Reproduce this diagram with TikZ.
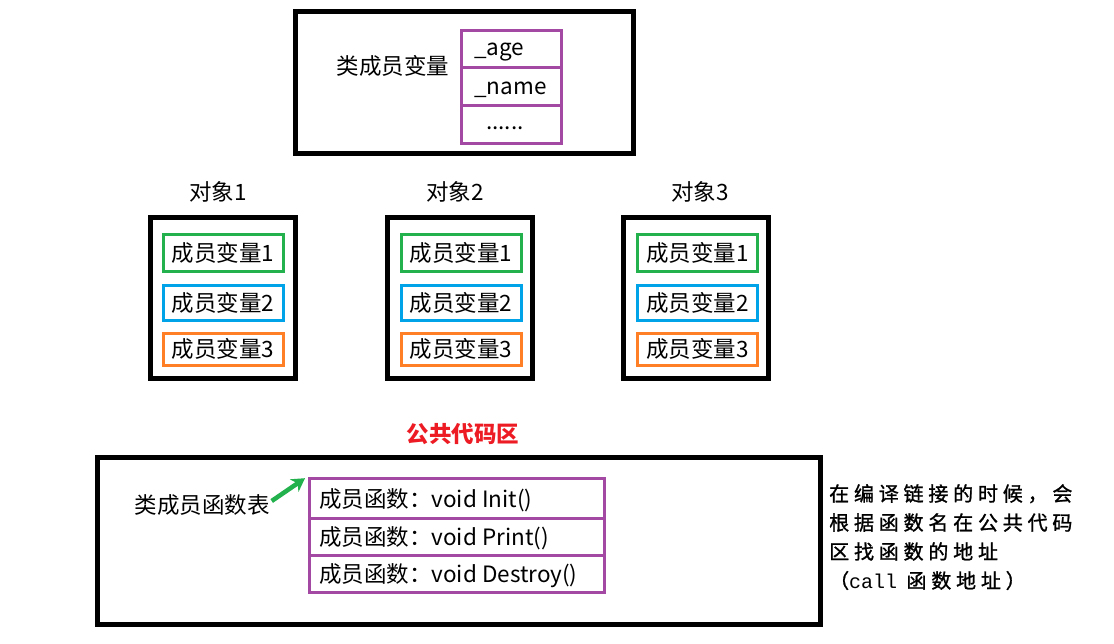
\documentclass[tikz,border=0pt]{standalone}
\usepackage{fontspec}
\setmainfont{Noto Sans CJK SC}
\newfontfamily\monof{Liberation Mono}
\usetikzlibrary{arrows.meta}
\definecolor{purp}{HTML}{A349A4}
\definecolor{vgreen}{HTML}{22B14C}
\definecolor{vblue}{HTML}{00A2E8}
\definecolor{vorange}{HTML}{FF7F27}
\definecolor{vred}{HTML}{ED1C24}
\tikzset{
  blk/.style={draw=black, line width=5pt, inner sep=0pt, rectangle},
  cell/.style={draw=purp, line width=3pt, inner sep=0pt, rectangle, font=\fontsize{22.5}{26}\selectfont},
  vbox/.style={line width=3pt, inner sep=0pt, rectangle, minimum width=120pt, font=\fontsize{22.5}{26}\selectfont},
  lbl/.style={inner sep=0pt, font=\fontsize{22.5}{26}\selectfont},
}
\begin{document}
\begin{tikzpicture}[x=1pt,y=-1pt]
\useasboundingbox[fill=white] (0,0) rectangle (1114,643);

% top class box
\node[blk, minimum width=338pt, minimum height=142pt] (cls) at (464,82) {};
\node[lbl] (clslbl) at (393,66) {类成员变量};
\node[cell, minimum width=100pt, minimum height=37pt] (age) at (511,48.5) {};
\node[cell, minimum width=100pt, minimum height=38pt] (name) at (511,86) {};
\node[cell, minimum width=100pt, minimum height=38pt] (dots) at (511,124) {};
\node[lbl, anchor=west] (agetxt) at (474,52) {\_age};
\node[lbl, anchor=west] (nametxt) at (474,90) {\_name};
\node[lbl, anchor=west] (dotstxt) at (486,128) {......};

% objects
\foreach \i/\bx/\ix/\lx in {1/222.5/223/218, 2/459.5/461/455, 3/696/697.5/700} {
  \node[lbl] (t\i) at (\lx,192) {对象\i};
  \node[blk, minimum width=145pt, minimum height=161pt] (o\i) at (\bx,297.5) {};
  \node[vbox, draw=vgreen, minimum height=37pt] (o\i v1) at (\ix,253) {\raisebox{-1.5pt}{成员变量1}};
  \node[vbox, draw=vblue, minimum height=35pt] (o\i v2) at (\ix,303) {\raisebox{-1.5pt}{成员变量2}};
  \node[vbox, draw=vorange, minimum height=32pt] (o\i v3) at (\ix,349) {\raisebox{-1.5pt}{成员变量3}};
}

% public code area
\node[lbl, text=vred, font=\fontsize{22.5}{26}\selectfont\bfseries] (pub) at (463,434) {公共代码区};
\node[blk, minimum width=723pt, minimum height=167pt] (code) at (458.5,540.5) {};
\node[lbl] (ftab) at (202,505) {类成员函数表};
\node[cell, minimum width=295pt, minimum height=40pt] (f1) at (456.5,498) {};
\node[cell, minimum width=295pt, minimum height=37pt] (f2) at (456.5,536.5) {};
\node[cell, minimum width=295pt, minimum height=37pt] (f3) at (456.5,573.5) {};
\node[lbl, anchor=west] (f1t) at (319,500) {成员函数：void Init()};
\node[lbl, anchor=west] (f2t) at (319,538.5) {成员函数：void Print()};
\node[lbl, anchor=west] (f3t) at (319,575.5) {成员函数：void Destroy()};
\draw[vgreen, line width=4.5pt, -{Stealth[length=13pt,width=15pt,inset=4pt]}, shorten >=3pt] (ftab.east) ++(2pt,4pt) coordinate (as) -- (f1.north west);

% note
\node[inner sep=0pt, anchor=north west, align=left, font=\fontsize{20}{29}\selectfont\addfontfeature{LetterSpace=24,FakeBold=1.2}] (note) at (829,484)
 {在编译链接的时候，会\\根据函数名在公共代码\\区找函数的地址\\（{\monof call} 函数地址）};
\end{tikzpicture}
\end{document}
